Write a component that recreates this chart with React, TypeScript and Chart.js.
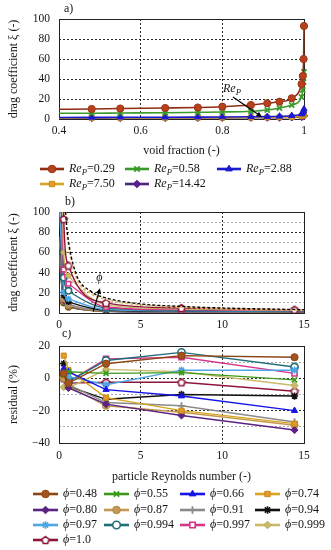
import React, { useEffect, useRef } from 'react';
import { Chart, registerables } from 'chart.js';
import { drawPoint } from 'chart.js/helpers';

Chart.register(...registerables);

const SERIF = '"Liberation Serif", "Times New Roman", serif';
const INK = '#151515';

// ---- categories ----
const PHI = [0.48, 0.55, 0.66, 0.74, 0.80, 0.87, 0.91, 0.94, 0.97, 0.994, 0.997, 0.999, 1.0];
const PHI_LABELS = ['0.48', '0.55', '0.66', '0.74', '0.80', '0.87', '0.91', '0.94', '0.97', '0.994', '0.997', '0.999', '1.0'];
const RE_P = [0.29, 0.58, 2.88, 7.50, 14.42];
const RE_LABELS = ['0.29', '0.58', '2.88', '7.50', '14.42'];

// ---- a) drag coefficient vs void fraction, one list per Re_P (values at PHI) ----
const XI_RE_029 = [10, 10.5, 11, 11.5, 12.3, 14, 15.7, 17.3, 20.7, 35, 43, 60, 93];
const XI_RE_058 = [5.8, 6, 6.3, 6.7, 7, 7.8, 9, 11, 14, 22, 29, 37, 47];
const XI_RE_288 = [1.6, 1.7, 1.8, 1.9, 2, 2.2, 2.4, 2.7, 3.3, 5, 6, 8, 10];
const XI_RE_750 = [1.2, 1.25, 1.3, 1.35, 1.4, 1.5, 1.6, 1.8, 2.1, 2.8, 3.3, 4, 5];
const XI_RE_1442 = [0.9, 0.95, 1, 1.05, 1.1, 1.2, 1.3, 1.4, 1.6, 2, 2.4, 2.8, 3.3];
// model curves at void fraction 0.4 (left edge), per Re_P
const CURVE_A_X0 = 0.4;
const CURVE_A_Y0 = [9.7, 5.7, 1.5, 1.1, 0.8];

// ---- b) curves start (Re_P = 0.05) per PHI, read off the steep branch ----
const CURVE_B_X0 = 0.05;
const CURVE_B_Y0 = [50, 52, 55, 57, 60, 70, 75, 85, 100, 170, 210, 300, 460];
const CURVE_B_X1 = 15;
// reference curves (dashed) in b)
const REF_B_RE = [0.4, 0.5, 1, 2, 2.88, 5, 7.5, 10, 15];
const REF_B_DARK = [100, 81, 41, 21, 15, 9, 6.5, 5, 3.3];
const REF_B_LIGHT = [100, 78, 38, 19, 13.5, 8, 5.8, 4.5, 3];

// ---- c) residual (%) vs Re_P, one list per PHI (values at RE_P) ----
const RES_PHI_048 = [3, -3, 9, 14, 13];
const RES_PHI_055 = [2, 4, 3, 3.5, -1];
const RES_PHI_066 = [6, 4, -7, -11, -20];
const RES_PHI_074 = [14, 5, -12, -20, -28];
const RES_PHI_080 = [3, -6, -16, -23, -32];
const RES_PHI_087 = [0, -5, -17, -21, -29];
const RES_PHI_091 = [1, -4, -15, -17, -27];
const RES_PHI_094 = [9, -5, -13, -10, -11];
const RES_PHI_097 = [3, 1, -4, 5, 5];
const RES_PHI_0994 = [1, -2, 11, 16, 7];
const RES_PHI_0997 = [2, -2, 12, 13, 3];
const RES_PHI_0999 = [-5.5, -6, 5.5, 4, -4.5];
const RES_PHI_1 = [0, -3, -2.5, -2.5, -8];

const XI_BY_RE = [XI_RE_029, XI_RE_058, XI_RE_288, XI_RE_750, XI_RE_1442];
const RES_BY_PHI = [RES_PHI_048, RES_PHI_055, RES_PHI_066, RES_PHI_074, RES_PHI_080, RES_PHI_087,
  RES_PHI_091, RES_PHI_094, RES_PHI_097, RES_PHI_0994, RES_PHI_0997, RES_PHI_0999, RES_PHI_1];

function makePentagon(color: string): HTMLCanvasElement {
  const s = 10;
  const c = document.createElement('canvas');
  c.width = s; c.height = s;
  const g = c.getContext('2d')!;
  g.fillStyle = '#ffffff';
  g.strokeStyle = color;
  g.lineWidth = 1.6;
  g.beginPath();
  const cx = s / 2, cy = s / 2 + 0.4, r = s / 2 - 1.2;
  for (let i = 0; i < 5; i++) {
    const a = -Math.PI / 2 + (i * 2 * Math.PI) / 5;
    const px = cx + r * Math.cos(a), py = cy + r * Math.sin(a);
    if (i === 0) g.moveTo(px, py); else g.lineTo(px, py);
  }
  g.closePath();
  g.fill();
  g.stroke();
  return c;
}

type Sty = { line: string; fill: string; stroke: string; style: any; bw: number };

function phiStyles(): Sty[] {
  return [
    { line: '#8B4513', fill: '#A4521E', stroke: '#8B4513', style: 'circle', bw: 1 },
    { line: '#3C9A1E', fill: '#3C9A1E', stroke: '#3C9A1E', style: 'crossRot', bw: 1.8 },
    { line: '#1414E6', fill: '#1414E6', stroke: '#1414E6', style: 'triangle', bw: 1 },
    { line: '#D9A520', fill: '#E39A2B', stroke: '#C98A1A', style: 'rect', bw: 1 },
    { line: '#5B2483', fill: '#5B2483', stroke: '#5B2483', style: 'rectRot', bw: 1 },
    { line: '#C49A52', fill: '#C49A52', stroke: '#B08940', style: 'circle', bw: 1 },
    { line: '#8A8A8A', fill: '#8A8A8A', stroke: '#8A8A8A', style: 'cross', bw: 1.8 },
    { line: '#111111', fill: '#111111', stroke: '#111111', style: 'star', bw: 1.6 },
    { line: '#4EA6E6', fill: '#4EA6E6', stroke: '#4EA6E6', style: 'star', bw: 1.6 },
    { line: '#216D78', fill: '#FFFFFF', stroke: '#216D78', style: 'circle', bw: 1.6 },
    { line: '#D6338A', fill: '#FFFFFF', stroke: '#D6338A', style: 'rect', bw: 1.6 },
    { line: '#C9BA6A', fill: '#C9BA6A', stroke: '#B8A958', style: 'rectRot', bw: 1 },
    { line: '#8E1538', fill: '#FFFFFF', stroke: '#8E1538', style: makePentagon('#8E1538'), bw: 1.6 },
  ];
}

function reStyles(): Sty[] {
  return [
    { line: '#8E2F14', fill: '#B8401C', stroke: '#9A3416', style: 'circle', bw: 1 },
    { line: '#3A9A2A', fill: '#3A9A2A', stroke: '#3A9A2A', style: 'crossRot', bw: 1.8 },
    { line: '#1A1AD0', fill: '#1A1AD0', stroke: '#1A1AD0', style: 'triangle', bw: 1 },
    { line: '#D9A520', fill: '#E39A2B', stroke: '#C98A1A', style: 'rect', bw: 1 },
    { line: '#4A2577', fill: '#5B1E8C', stroke: '#5B1E8C', style: 'rectRot', bw: 1 },
  ];
}

type Part = { t: string; it?: boolean; sub?: boolean };

function drawRich(ctx: CanvasRenderingContext2D, parts: Part[], x: number, y: number, size: number, align: 'left' | 'center' = 'left') {
  const fontOf = (p: Part) => `${p.it ? 'italic ' : ''}${p.sub ? size * 0.72 : size}px ${SERIF}`;
  let w = 0;
  for (const p of parts) { ctx.font = fontOf(p); w += ctx.measureText(p.t).width; }
  let cx = align === 'center' ? x - w / 2 : x;
  ctx.textAlign = 'left';
  ctx.textBaseline = 'middle';
  ctx.fillStyle = INK;
  for (const p of parts) {
    ctx.font = fontOf(p);
    ctx.fillText(p.t, cx, y + (p.sub ? size * 0.28 : 0));
    cx += ctx.measureText(p.t).width;
  }
}

function drawArrow(ctx: CanvasRenderingContext2D, x1: number, y1: number, x2: number, y2: number) {
  ctx.save();
  ctx.strokeStyle = '#000';
  ctx.fillStyle = '#000';
  ctx.lineWidth = 1.2;
  const a = Math.atan2(y2 - y1, x2 - x1);
  const h = 6;
  ctx.beginPath();
  ctx.moveTo(x1, y1);
  ctx.lineTo(x2 - h * 0.8 * Math.cos(a), y2 - h * 0.8 * Math.sin(a));
  ctx.stroke();
  ctx.beginPath();
  ctx.moveTo(x2, y2);
  ctx.lineTo(x2 - h * Math.cos(a - 0.45), y2 - h * Math.sin(a - 0.45));
  ctx.lineTo(x2 - h * Math.cos(a + 0.45), y2 - h * Math.sin(a + 0.45));
  ctx.closePath();
  ctx.fill();
  ctx.restore();
}

type LegItem = { parts: Part[]; sty: Sty };

function drawLegend(ctx: CanvasRenderingContext2D, items: LegItem[], cols: number[], rows: number[], len: number, radius: number) {
  items.forEach((it, i) => {
    const x0 = cols[i % cols.length];
    const y = rows[Math.floor(i / cols.length)];
    ctx.save();
    ctx.strokeStyle = it.sty.line;
    ctx.lineWidth = 2.6;
    ctx.setLineDash([]);
    ctx.beginPath();
    ctx.moveTo(x0, y);
    ctx.lineTo(x0 + len, y);
    ctx.stroke();
    ctx.fillStyle = it.sty.fill;
    ctx.strokeStyle = it.sty.stroke;
    ctx.lineWidth = it.sty.bw;
    drawPoint(ctx, { pointStyle: it.sty.style, rotation: 0, radius, borderWidth: it.sty.bw } as any, x0 + len / 2, y);
    ctx.restore();
    drawRich(ctx, it.parts, x0 + len + 5, y, 12);
  });
}

function decorPlugin(tag: string, tagX: number, tagY: number, extra: (chart: any, ctx: CanvasRenderingContext2D) => void) {
  return {
    id: 'decor',
    beforeDatasetsDraw(chart: any) {
      const { ctx, chartArea: a } = chart;
      ctx.save();
      ctx.strokeStyle = '#222';
      ctx.lineWidth = 1;
      ctx.setLineDash([]);
      ctx.strokeRect(Math.round(a.left) + 0.5, Math.round(a.top) + 0.5, Math.round(a.right - a.left), Math.round(a.bottom - a.top));
      ctx.restore();
    },
    afterDraw(chart: any) {
      const ctx = chart.ctx as CanvasRenderingContext2D;
      ctx.save();
      ctx.font = `12px ${SERIF}`;
      ctx.fillStyle = INK;
      ctx.textAlign = 'left';
      ctx.textBaseline = 'middle';
      ctx.fillText(tag, tagX, tagY);
      extra(chart, ctx);
      ctx.restore();
    },
  };
}

function gridOpts(min: number, max: number, isMajor: (v: number) => boolean) {
  return {
    drawTicks: false,
    lineWidth: 0.9,
    color: (c: any) => {
      const v = c.tick ? c.tick.value : NaN;
      if (Math.abs(v - min) < 1e-9 || Math.abs(v - max) < 1e-9) return 'rgba(0,0,0,0)';
      return isMajor(v) ? '#111111' : '#a5a5a5';
    },
  };
}

const tickFont = { family: SERIF, size: 11.5 };
const titleFont = { family: SERIF, size: 12 };
const fmtNum = (v: number) => (v < 0 ? '\u2212' + String(-v) : String(v));

function baseOptions(padding: any) {
  return {
    animation: false,
    responsive: false,
    maintainAspectRatio: false,
    events: [],
    layout: { padding },
    plugins: { legend: { display: false }, tooltip: { enabled: false }, title: { display: false } },
  };
}

function configA() {
  const st = reStyles();
  const datasets = RE_P.map((re, k) => ({
    label: 'Re_P=' + RE_LABELS[k],
    data: [{ x: CURVE_A_X0, y: CURVE_A_Y0[k] }, ...PHI.map((p, i) => ({ x: p, y: XI_BY_RE[k][i] }))],
    borderColor: st[k].line,
    backgroundColor: st[k].fill,
    borderWidth: 1.6,
    pointStyle: st[k].style,
    pointRadius: [0, ...PHI.map(() => 3.6)],
    pointBackgroundColor: st[k].fill,
    pointBorderColor: st[k].stroke,
    pointBorderWidth: st[k].bw,
    cubicInterpolationMode: 'monotone',
    clip: false,
    order: k,
  }));
  const legendItems: LegItem[] = RE_P.map((re, k) => ({
    parts: [{ t: 'Re', it: true }, { t: 'P', it: true, sub: true }, { t: '=' + RE_LABELS[k] }],
    sty: st[k],
  }));
  return {
    type: 'line',
    data: { datasets },
    options: {
      ...baseOptions({ left: 0, right: 27, top: 19, bottom: 38 }),
      scales: {
        x: {
          type: 'linear', min: 0.4, max: 1,
          ticks: { stepSize: 0.2, font: tickFont, color: INK, padding: 5, maxRotation: 0, autoSkip: false,
            callback: (v: number) => (Math.abs(v - 1) < 1e-9 ? '1' : Number(v).toFixed(1)) },
          grid: gridOpts(0.4, 1, () => true),
          border: { display: false, dash: [2, 2] },
          title: { display: true, text: 'void fraction (-)', font: titleFont, color: INK, padding: 0 },
          afterFit: (s: any) => { s.height = 39; },
        },
        y: {
          type: 'linear', min: 0, max: 100,
          ticks: { stepSize: 20, font: tickFont, color: INK, padding: 9, autoSkip: false, callback: fmtNum },
          grid: gridOpts(0, 100, () => true),
          border: { display: false, dash: [2, 2] },
          title: { display: true, text: 'drag coefficient \u03BE (-)', font: titleFont, color: INK, padding: { top: 7, bottom: 0 } },
          afterFit: (s: any) => { s.width = 59; },
        },
      },
    },
    plugins: [decorPlugin('a)', 64, 9, (chart, ctx) => {
      const xs = chart.scales.x, ys = chart.scales.y;
      drawRich(ctx, [{ t: 'Re', it: true }, { t: 'P', it: true, sub: true }], xs.getPixelForValue(0.8017), ys.getPixelForValue(30), 12);
      drawArrow(ctx, xs.getPixelForValue(0.826), ys.getPixelForValue(22), xs.getPixelForValue(0.897), ys.getPixelForValue(2));
      drawLegend(ctx, legendItems, [40, 125, 217], [169, 184], 24, 3.8);
    })],
  };
}

function configB() {
  const st = phiStyles();
  const datasets: any[] = PHI.map((phi, i) => ({
    label: 'phi=' + PHI_LABELS[i],
    data: [
      { x: CURVE_B_X0, y: CURVE_B_Y0[i] },
      ...RE_P.map((re, k) => ({ x: re, y: XI_BY_RE[k][i] })),
      { x: CURVE_B_X1, y: XI_RE_1442[i] },
    ],
    borderColor: st[i].line,
    backgroundColor: st[i].fill,
    borderWidth: 1.4,
    pointStyle: st[i].style,
    pointRadius: [0, ...RE_P.map(() => 3.2), 0],
    pointBackgroundColor: st[i].fill,
    pointBorderColor: st[i].stroke,
    pointBorderWidth: st[i].bw,
    cubicInterpolationMode: 'monotone',
    order: 20 - i,
  }));
  datasets.push({
    label: 'ref light',
    data: REF_B_RE.map((re, j) => ({ x: re, y: REF_B_LIGHT[j] })),
    borderColor: '#E2BC78', borderWidth: 1.8, borderDash: [3, 2], pointRadius: 0,
    cubicInterpolationMode: 'monotone', order: 1,
  });
  datasets.push({
    label: 'ref dark',
    data: REF_B_RE.map((re, j) => ({ x: re, y: REF_B_DARK[j] })),
    borderColor: '#000000', borderWidth: 1.3, borderDash: [3, 2], pointRadius: 0,
    cubicInterpolationMode: 'monotone', order: 0,
  });
  return {
    type: 'line',
    data: { datasets },
    options: {
      ...baseOptions({ left: 0, right: 27, top: 16, bottom: 0 }),
      scales: {
        x: {
          type: 'linear', min: 0, max: 15,
          ticks: { stepSize: 5, font: tickFont, color: INK, padding: 5, maxRotation: 0, autoSkip: false },
          grid: gridOpts(0, 15, () => true),
          border: { display: false, dash: [2, 2] },
          afterFit: (s: any) => { s.height = 17; },
        },
        y: {
          type: 'linear', min: 0, max: 100,
          ticks: { stepSize: 10, font: tickFont, color: INK, padding: 9, autoSkip: false,
            callback: (v: number) => (v % 20 === 0 ? fmtNum(v) : '') },
          grid: gridOpts(0, 100, (v) => v % 20 === 0),
          border: { display: false, dash: [2, 2] },
          title: { display: true, text: 'drag coefficient \u03BE (-)', font: titleFont, color: INK, padding: { top: 7, bottom: 0 } },
          afterFit: (s: any) => { s.width = 59; },
        },
      },
    },
    plugins: [decorPlugin('b)', 65, 6, (chart, ctx) => {
      const xs = chart.scales.x, ys = chart.scales.y;
      drawArrow(ctx, xs.getPixelForValue(2.1), ys.getPixelForValue(1.3), xs.getPixelForValue(2.51), ys.getPixelForValue(24.5));
      drawRich(ctx, [{ t: '\u03D5', it: true }], xs.getPixelForValue(2.47), ys.getPixelForValue(35), 12, 'center');
    })],
  };
}

function configC() {
  const st = phiStyles();
  const datasets = PHI.map((phi, i) => ({
    label: 'phi=' + PHI_LABELS[i],
    data: RE_P.map((re, k) => ({ x: re, y: RES_BY_PHI[i][k] })),
    borderColor: st[i].line,
    backgroundColor: st[i].fill,
    borderWidth: 1.4,
    pointStyle: st[i].style,
    pointRadius: 3.6,
    pointBackgroundColor: st[i].fill,
    pointBorderColor: st[i].stroke,
    pointBorderWidth: st[i].bw,
    tension: 0,
    clip: false,
  }));
  const legendItems: LegItem[] = PHI.map((phi, i) => ({
    parts: [{ t: '\u03D5', it: true }, { t: '=' + PHI_LABELS[i] }],
    sty: st[i],
  }));
  return {
    type: 'line',
    data: { datasets },
    options: {
      ...baseOptions({ left: 0, right: 27, top: 15, bottom: 66 }),
      scales: {
        x: {
          type: 'linear', min: 0, max: 15,
          ticks: { stepSize: 5, font: tickFont, color: INK, padding: 6, maxRotation: 0, autoSkip: false },
          grid: gridOpts(0, 15, () => true),
          border: { display: false, dash: [2, 2] },
          title: { display: true, text: 'particle Reynolds number (-)', font: titleFont, color: INK, padding: 0 },
          afterFit: (s: any) => { s.height = 41; },
        },
        y: {
          type: 'linear', min: -40, max: 20,
          ticks: { stepSize: 10, font: tickFont, color: INK, padding: 9, autoSkip: false,
            callback: (v: number) => (v % 20 === 0 ? fmtNum(v) : '') },
          grid: gridOpts(-40, 20, (v) => v % 20 === 0),
          border: { display: false, dash: [2, 2] },
          title: { display: true, text: 'residual (%)', font: titleFont, color: INK, padding: { top: 7, bottom: 0 } },
          afterFit: (s: any) => { s.width = 59; },
        },
      },
    },
    plugins: [decorPlugin('c)', 62, 4, (chart, ctx) => {
      drawLegend(ctx, legendItems, [33, 104, 180, 255], [164, 180, 195, 210], 25, 3.8);
    })],
  };
}

export default function App() {
  const refA = useRef<HTMLCanvasElement>(null);
  const refB = useRef<HTMLCanvasElement>(null);
  const refC = useRef<HTMLCanvasElement>(null);
  useEffect(() => {
    const charts = [
      new Chart(refA.current as HTMLCanvasElement, configA() as any),
      new Chart(refB.current as HTMLCanvasElement, configB() as any),
      new Chart(refC.current as HTMLCanvasElement, configC() as any),
    ];
    return () => charts.forEach((c) => c.destroy());
  }, []);
  return (
    <div style={{ position: 'absolute', left: 0, top: 0, width: 331, height: 550, background: '#ffffff' }}>
      <canvas ref={refA} width={331} height={196} style={{ position: 'absolute', left: 0, top: 0, width: 331, height: 196 }} />
      <canvas ref={refB} width={331} height={134} style={{ position: 'absolute', left: 0, top: 196, width: 331, height: 134 }} />
      <canvas ref={refC} width={331} height={220} style={{ position: 'absolute', left: 0, top: 330, width: 331, height: 220 }} />
    </div>
  );
}
